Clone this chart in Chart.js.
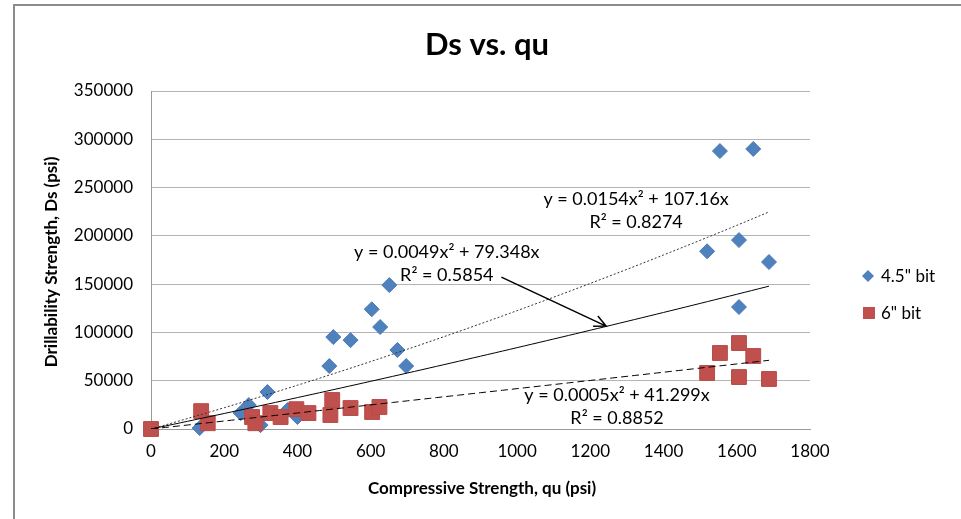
<!DOCTYPE html>
<html>
<head>
<meta charset="utf-8">
<script src="https://cdn.jsdelivr.net/npm/chart.js@4"></script>
<style>
  html, body { margin: 0; padding: 0; background: #fff; }
  #wrap { width: 961px; height: 519px; }
</style>
</head>
<body>
<div id="wrap"><canvas id="dsChart" width="961" height="519"></canvas></div>
<script>
// 4.5" bit readings (qu, Ds)
const bitSmallQu = [0, 133, 245, 267, 299, 318, 373, 400, 487, 498, 545, 603, 626, 651, 673, 697, 1519, 1554, 1606, 1606, 1645, 1688];
const bitSmallDs = [0, 1000, 16500, 24800, 4000, 38300, 19600, 12400, 65200, 95200, 92000, 124000, 105600, 149000, 81800, 65200, 184000, 287800, 195600, 126300, 290000, 172900];

// 6" bit readings
const bitLargeQu = [0, 137, 155, 276, 285, 326, 354, 397, 430, 490, 495, 545, 604, 624, 1519, 1554, 1606, 1606, 1645, 1688];
const bitLargeDs = [0, 18500, 6000, 12400, 6000, 16500, 12400, 20500, 16500, 14500, 30000, 21700, 17600, 22800, 58000, 78700, 89000, 53800, 75600, 51800];

const seriesNames = ['4.5" bit', '6" bit'];

// trendline coefficients [a, b] for y = a*x^2 + b*x (from the chart labels)
const trendAll = [0.0049, 79.348];
const trendSmall = [0.0154, 107.16];
const trendLarge = [0.0005, 41.299];
const trendText = {
  all: ['y = 0.0049x\u00b2 + 79.348x', 'R\u00b2 = 0.5854'],
  small: ['y = 0.0154x\u00b2 + 107.16x', 'R\u00b2 = 0.8274'],
  large: ['y = 0.0005x\u00b2 + 41.299x', 'R\u00b2 = 0.8852']
};

const FONT = 'Lato, "Open Sans", sans-serif';

function pairs(xs, ys) {
  return xs.map((v, i) => ({ x: v, y: ys[i] }));
}

function trendPoints(coef, xmax) {
  const pts = [];
  for (let q = 0; q <= xmax; q += 20) pts.push({ x: q, y: coef[0] * q * q + coef[1] * q });
  pts.push({ x: xmax, y: coef[0] * xmax * xmax + coef[1] * xmax });
  return pts;
}

const maxAll = Math.max(...bitSmallQu, ...bitLargeQu);

// frame, titles, legend, trendline labels, arrow
const extras = {
  id: 'extras',
  beforeDraw(chart) {
    const ctx = chart.ctx;
    ctx.save();
    ctx.strokeStyle = '#8c8c8c';
    ctx.lineWidth = 2;
    ctx.beginPath();
    ctx.moveTo(14, 519);
    ctx.lineTo(14, 5);
    ctx.lineTo(961, 5);
    ctx.stroke();
    ctx.restore();
  },
  afterDraw(chart) {
    const ctx = chart.ctx;
    const xs = chart.scales.x, ys = chart.scales.y;
    ctx.save();
    ctx.fillStyle = '#000';
    ctx.textAlign = 'center';
    ctx.textBaseline = 'middle';

    // title
    ctx.font = 'bold 31px ' + FONT;
    ctx.fillText('Ds vs. qu', 487, 45);

    // axis titles
    ctx.font = 'bold 17px ' + FONT;
    ctx.fillText('Compressive Strength, qu (psi)', 482, 489);
    ctx.save();
    ctx.translate(52, 262);
    ctx.rotate(-Math.PI / 2);
    ctx.fillText('Drillability Strength, Ds (psi)', 0, 0);
    ctx.restore();

    // trendline labels, anchored in data units
    ctx.font = '18px ' + FONT;
    const lab = (lines, qx, dy) => {
      const px = xs.getPixelForValue(qx), py = ys.getPixelForValue(dy);
      ctx.fillText(lines[0], px, py);
      ctx.fillText(lines[1], px, py + 23);
    };
    lab(trendText.small, 1325, 238000);
    lab(trendText.all, 808, 183000);
    lab(trendText.large, 1273, 35000);

    // arrow to the all-data trendline
    const x1 = xs.getPixelForValue(957), y1 = ys.getPixelForValue(157300);
    const x2 = xs.getPixelForValue(1243), y2 = ys.getPixelForValue(106600);
    ctx.strokeStyle = '#000';
    ctx.lineWidth = 1.5;
    ctx.beginPath();
    ctx.moveTo(x1, y1);
    ctx.lineTo(x2, y2);
    const ang = Math.atan2(y2 - y1, x2 - x1);
    ctx.moveTo(x2 - 13 * Math.cos(ang - 0.45), y2 - 13 * Math.sin(ang - 0.45));
    ctx.lineTo(x2, y2);
    ctx.lineTo(x2 - 13 * Math.cos(ang + 0.45), y2 - 13 * Math.sin(ang + 0.45));
    ctx.stroke();

    // legend
    ctx.textAlign = 'left';
    ctx.font = '17px ' + FONT;
    ctx.fillStyle = '#4F81BD';
    ctx.beginPath();
    ctx.moveTo(868, 270); ctx.lineTo(874, 276); ctx.lineTo(868, 282); ctx.lineTo(862, 276);
    ctx.closePath();
    ctx.fill();
    ctx.fillStyle = '#C0504D';
    ctx.fillRect(863, 307, 12, 12);
    ctx.fillStyle = '#000';
    ctx.fillText(seriesNames[0], 881, 277);
    ctx.fillText(seriesNames[1], 881, 314);
    ctx.restore();
  }
};

new Chart(document.getElementById('dsChart').getContext('2d'), {
  type: 'scatter',
  data: {
    datasets: [
      {
        label: 'all', data: trendPoints(trendAll, maxAll), showLine: true,
        borderColor: '#000', borderWidth: 1, pointRadius: 0, order: 0
      },
      {
        label: 'small trend', data: trendPoints(trendSmall, Math.max(...bitSmallQu)), showLine: true,
        borderColor: '#333', borderWidth: 1, borderDash: [2, 2], pointRadius: 0, order: 0
      },
      {
        label: 'large trend', data: trendPoints(trendLarge, Math.max(...bitLargeQu)), showLine: true,
        borderColor: '#000', borderWidth: 1, borderDash: [7, 4], pointRadius: 0, order: 0
      },
      {
        label: seriesNames[1], data: pairs(bitLargeQu, bitLargeDs),
        pointStyle: 'rect', pointRadius: 10.5, backgroundColor: '#C0504D', borderColor: '#B84A47',
        borderWidth: 1, order: 1, clip: false
      },
      {
        label: seriesNames[0], data: pairs(bitSmallQu, bitSmallDs),
        pointStyle: 'rectRot', pointRadius: 7.5, backgroundColor: '#4F81BD', borderColor: '#4A7AB5',
        borderWidth: 1, order: 2, clip: false
      }
    ]
  },
  options: {
    responsive: false,
    animation: false,
    layout: { padding: { top: 91, right: 151, left: 0, bottom: 0 } },
    plugins: { legend: { display: false }, title: { display: false }, tooltip: { enabled: false } },
    scales: {
      x: {
        type: 'linear', min: 0, max: 1800,
        ticks: { stepSize: 200, padding: 12, color: '#000', font: { family: FONT, size: 17 }, callback: v => String(v) },
        grid: { display: false, drawTicks: false },
        border: { color: '#9a9a9a', width: 1 },
        afterFit: s => { s.height = 90; }
      },
      y: {
        type: 'linear', min: 0, max: 350000,
        ticks: { stepSize: 50000, padding: 18, color: '#000', font: { family: FONT, size: 17 }, callback: v => String(v) },
        grid: { color: '#b4b4b4', drawTicks: false },
        border: { color: '#9a9a9a', width: 1 },
        afterFit: s => { s.width = 151; }
      }
    }
  },
  plugins: [extras]
});
</script>
</body>
</html>
